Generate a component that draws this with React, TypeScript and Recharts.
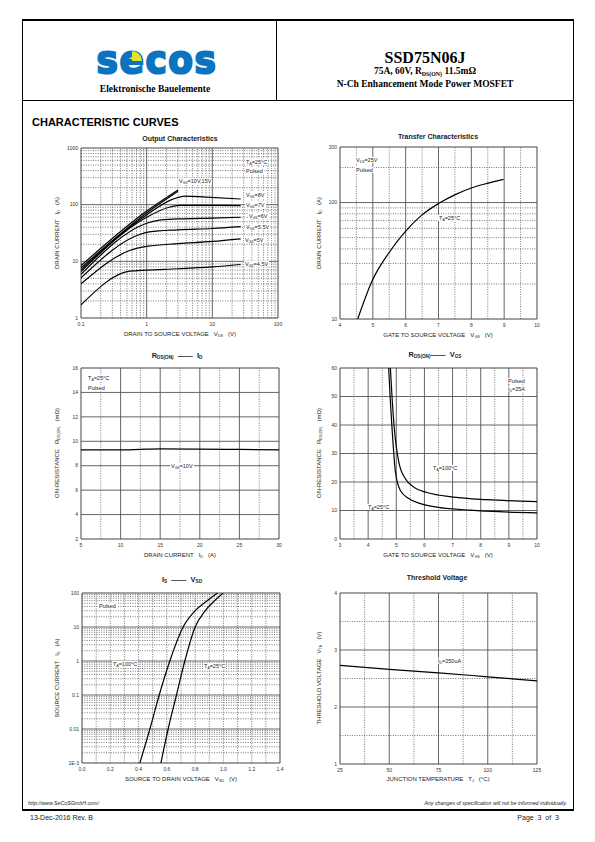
import React from 'react'
import { LineChart, Line, XAxis, YAxis, ReferenceLine } from 'recharts'

const SANS = '"Liberation Sans", Arial, Helvetica, sans-serif'
const SERIF = '"Liberation Serif", "Times New Roman", serif'

type Pt = { x: number; y: number }

// Output characteristics: VDS (V) vs ID (A), one curve per VGS
const OUT_VGS15: Pt[] = [{ x: 0.1, y: 8.4 }, { x: 1, y: 77 }, { x: 3, y: 182 }]
const OUT_VGS10: Pt[] = [{ x: 0.1, y: 7.7 }, { x: 1, y: 71 }, { x: 3, y: 172 }]
const OUT_VGS8: Pt[] = [{ x: 0.1, y: 7.1 }, { x: 1, y: 66 }, { x: 2.5, y: 125 }, { x: 3.8, y: 142 }, { x: 8, y: 136 }, { x: 27, y: 126 }]
const OUT_VGS7: Pt[] = [{ x: 0.1, y: 6.6 }, { x: 1, y: 60 }, { x: 2.2, y: 90 }, { x: 3.2, y: 97 }, { x: 10, y: 97 }, { x: 27, y: 96 }]
const OUT_VGS6: Pt[] = [{ x: 0.1, y: 5.9 }, { x: 1, y: 47 }, { x: 1.5, y: 53 }, { x: 3, y: 56 }, { x: 10, y: 58 }, { x: 27, y: 60 }]
const OUT_VGS55: Pt[] = [{ x: 0.1, y: 5.1 }, { x: 0.8, y: 30 }, { x: 1.1, y: 33 }, { x: 3, y: 36 }, { x: 10, y: 38 }, { x: 27, y: 41 }]
const OUT_VGS5: Pt[] = [{ x: 0.1, y: 4.0 }, { x: 0.55, y: 15.5 }, { x: 1.05, y: 18.5 }, { x: 3, y: 20.5 }, { x: 10, y: 22.5 }, { x: 27, y: 25 }]
const OUT_VGS45: Pt[] = [{ x: 0.1, y: 1.7 }, { x: 0.55, y: 6.7 }, { x: 1, y: 7.0 }, { x: 3, y: 7.4 }, { x: 10, y: 8.0 }, { x: 27, y: 8.8 }]

// Transfer characteristics: VGS (V) vs ID (A)
const TRANSFER: Pt[] = [
  { x: 4.54, y: 10 }, { x: 4.97, y: 21 }, { x: 5.48, y: 36.7 }, { x: 5.98, y: 56 }, { x: 6.49, y: 78 },
  { x: 7.0, y: 98 }, { x: 7.51, y: 117 }, { x: 8.02, y: 134 }, { x: 8.48, y: 146 }, { x: 8.98, y: 158 },
]

// RDS(ON) vs ID (mOhm)
const RDS_ID: Pt[] = [
  { x: 5, y: 9.3 }, { x: 10, y: 9.3 }, { x: 12.5, y: 9.34 }, { x: 15, y: 9.38 }, { x: 20, y: 9.36 }, { x: 25, y: 9.33 }, { x: 30, y: 9.3 },
]

// RDS(ON) vs VGS (mOhm)
const RDS_VGS_25: Pt[] = [
  { x: 4.73, y: 60 }, { x: 4.78, y: 50 }, { x: 4.85, y: 38.7 }, { x: 4.97, y: 23.5 }, { x: 5.14, y: 17.1 }, { x: 5.44, y: 14.2 },
  { x: 5.86, y: 12.4 }, { x: 6.45, y: 11.2 }, { x: 7.63, y: 10.1 }, { x: 8.82, y: 9.5 }, { x: 10, y: 9.2 },
]
const RDS_VGS_100: Pt[] = [
  { x: 4.79, y: 60 }, { x: 4.86, y: 48 }, { x: 4.93, y: 38.7 }, { x: 5.09, y: 27 }, { x: 5.32, y: 21.2 }, { x: 5.62, y: 18.2 },
  { x: 6.09, y: 16.3 }, { x: 7.04, y: 14.7 }, { x: 8.22, y: 13.8 }, { x: 10, y: 13.1 },
]

// IS vs VSD
const IS_100: Pt[] = [
  { x: 0.409, y: 0.001 }, { x: 0.48, y: 0.01 }, { x: 0.546, y: 0.1 }, { x: 0.621, y: 1 }, { x: 0.715, y: 10 },
  { x: 0.786, y: 26 }, { x: 0.88, y: 57 }, { x: 0.958, y: 100 },
]
const IS_25: Pt[] = [
  { x: 0.558, y: 0.001 }, { x: 0.609, y: 0.01 }, { x: 0.668, y: 0.1 }, { x: 0.727, y: 1 }, { x: 0.8, y: 10 },
  { x: 0.868, y: 29 }, { x: 0.939, y: 60 }, { x: 0.998, y: 100 },
]

// Threshold voltage vs junction temperature
const VTH: Pt[] = [{ x: 25, y: 2.73 }, { x: 50, y: 2.66 }, { x: 75, y: 2.6 }, { x: 100, y: 2.53 }, { x: 125, y: 2.46 }]

// ticks / grid
const logMinor = (from: number, to: number) => {
  const out: number[] = []
  for (let d = from; d < to; d *= 10) for (let k = 2; k <= 9; k++) out.push(+(d * k).toPrecision(3))
  return out
}

const ML = 40
const MT = 6
const MR = 8
const MB = 16
const TICK = { fontSize: 5, fill: '#333', fontFamily: SANS }

type Frame = { x: number; y: number; w: number; h: number }

interface PlotProps {
  f: Frame
  xDomain: [number, number]
  yDomain: [number, number]
  xLog?: boolean
  yLog?: boolean
  xTicks: number[]
  yTicks: number[]
  xFmt?: (v: number) => string
  yFmt?: (v: number) => string
  xMajor: number[]
  xMinor: number[]
  yMajor: number[]
  yMinor: number[]
  series: Pt[][]
}

function Plot({ f, xDomain, yDomain, xLog, yLog, xTicks, yTicks, xFmt, yFmt, xMajor, xMinor, yMajor, yMinor, series }: PlotProps) {
  return (
    <div style={{ position: 'absolute', left: f.x - ML, top: f.y - MT }}>
      <LineChart width={f.w + ML + MR} height={f.h + MT + MB} margin={{ top: MT, right: MR, bottom: 0, left: 0 }}>
        <XAxis type="number" dataKey="x" domain={xDomain} scale={xLog ? 'log' : 'linear'} ticks={xTicks} tickFormatter={xFmt}
          allowDataOverflow interval={0} height={MB} tickSize={0} tickMargin={4} axisLine={false} tick={TICK} />
        <YAxis type="number" domain={yDomain} scale={yLog ? 'log' : 'linear'} ticks={yTicks} tickFormatter={yFmt}
          allowDataOverflow interval={0} width={ML} tickSize={0} tickMargin={3} axisLine={false} tick={TICK} />
        {xMinor.map((v) => <ReferenceLine key={'xm' + v} x={v} stroke="#6a6a6a" strokeWidth={0.9} strokeDasharray="1 1.4" />)}
        {yMinor.map((v) => <ReferenceLine key={'ym' + v} y={v} stroke="#6a6a6a" strokeWidth={0.9} strokeDasharray="1 1.4" />)}
        {xMajor.map((v) => <ReferenceLine key={'xM' + v} x={v} stroke="#555" strokeWidth={0.9} />)}
        {yMajor.map((v) => <ReferenceLine key={'yM' + v} y={v} stroke="#555" strokeWidth={0.9} />)}
        <ReferenceLine x={xDomain[0]} stroke="#444" strokeWidth={1} />
        <ReferenceLine x={xDomain[1]} stroke="#444" strokeWidth={1} />
        <ReferenceLine y={yDomain[0]} stroke="#444" strokeWidth={1} />
        <ReferenceLine y={yDomain[1]} stroke="#444" strokeWidth={1} />
        {series.map((d, i) => (
          <Line key={i} data={d} dataKey="y" type="monotone" stroke="#000" strokeWidth={1.2} dot={false} isAnimationActive={false} />
        ))}
      </LineChart>
    </div>
  )
}

const S = ({ children }: { children: React.ReactNode }) => (
  <sub style={{ fontSize: '62%', verticalAlign: '-0.35em', lineHeight: 0 }}>{children}</sub>
)

interface TxtProps {
  x: number
  y: number
  children: React.ReactNode
  size?: number
  align?: 'left' | 'center' | 'right'
  bold?: boolean
  italic?: boolean
  serif?: boolean
  bg?: boolean
  rotate?: boolean
  color?: string
}

function Txt({ x, y, children, size = 6, align = 'left', bold, italic, serif, bg, rotate, color = '#222' }: TxtProps) {
  const tx = align === 'left' ? '0' : align === 'center' ? '-50%' : '-100%'
  return (
    <div style={{
      position: 'absolute', left: x, top: y,
      transform: rotate ? 'translate(-50%,-50%) rotate(-90deg)' : `translate(${tx},-50%)`,
      fontSize: size, fontWeight: bold ? 'bold' : 'normal', fontStyle: italic ? 'italic' : 'normal',
      fontFamily: serif ? SERIF : SANS, color, whiteSpace: 'nowrap', lineHeight: 1.15,
      background: bg ? '#fff' : 'transparent', padding: bg ? '0 1px' : 0,
    }}>{children}</div>
  )
}

const hl = (left: number, top: number, width: number, height: number) => (
  <div style={{ position: 'absolute', left, top, width, height, background: '#000' }} />
)

export default function App() {
  return (
    <div style={{ position: 'absolute', left: 0, top: 0, width: 595, height: 842, background: '#fff', fontFamily: SANS, overflow: 'hidden' }}>
      {/* page frame */}
      {hl(22, 19, 552, 2)}
      {hl(22, 100, 552, 1)}
      {hl(276, 20, 1, 80)}
      {hl(22, 20, 1, 790)}
      {hl(573, 20, 1, 790)}
      {hl(22, 809, 552, 2)}

      {/* logo */}
      <div style={{
        position: 'absolute', left: 157, top: 59, transform: 'translate(-50%,-50%) scaleY(1.1)', fontFamily: '"DejaVu Sans", sans-serif',
        fontWeight: 'bold', fontSize: 36, lineHeight: 0.75, letterSpacing: 1.5, color: '#0b74c0', whiteSpace: 'nowrap',
        WebkitTextStroke: '2px #0b74c0',
      }}>secos</div>
      <div style={{ position: 'absolute', left: 132, top: 51, width: 10, height: 10, background: '#e4e02a', borderTopRightRadius: '100%' }} />
      <Txt x={155} y={88.5} size={9.5} align="center" bold serif color="#000">Elektronische Bauelemente</Txt>

      <Txt x={425} y={58} size={16} align="center" bold serif color="#000">SSD75N06J</Txt>
      <Txt x={425} y={71} size={9.5} align="center" bold serif color="#000">75A, 60V, R<S>DS(ON)</S> 11.5mΩ</Txt>
      <Txt x={425} y={84} size={9.5} align="center" bold serif color="#000">N-Ch Enhancement Mode Power MOSFET</Txt>

      <Txt x={32} y={122} size={11} bold color="#000">CHARACTERISTIC CURVES</Txt>

      {/* Output characteristics */}
      <Plot f={{ x: 81, y: 148, w: 197, h: 170 }} xDomain={[0.1, 100]} yDomain={[1, 1000]} xLog yLog
        xTicks={[0.1, 1, 10, 100]} yTicks={[1, 10, 100, 1000]}
        xMajor={[1, 10]} xMinor={logMinor(0.1, 100)} yMajor={[10, 100]} yMinor={logMinor(1, 1000)}
        series={[OUT_VGS15, OUT_VGS10, OUT_VGS8, OUT_VGS7, OUT_VGS6, OUT_VGS55, OUT_VGS5, OUT_VGS45]} />
      <Txt x={180} y={139} size={7} align="center" bold>Output Characteristics</Txt>
      <Txt x={245} y={162} size={5.5} bg>T<S>A</S>=25°C</Txt>
      <Txt x={245} y={171} size={5.5} bg>Pulsed</Txt>
      <Txt x={178} y={181} size={5.5} bg>V<S>GS</S>=10V,15V</Txt>
      <Txt x={245} y={195} size={5.5} bg>V<S>GS</S>=8V</Txt>
      <Txt x={245} y={205} size={5.5} bg>V<S>GS</S>=7V</Txt>
      <Txt x={248} y={216} size={5.5} bg>V<S>GS</S>=6V</Txt>
      <Txt x={245} y={227} size={5.5} bg>V<S>GS</S>=5.5V</Txt>
      <Txt x={244} y={240} size={5.5} bg>V<S>GS</S>=5V</Txt>
      <Txt x={244} y={264} size={5.5} bg>V<S>GS</S>=4.5V</Txt>
      <Txt x={180} y={334} size={6} align="center">DRAIN TO SOURCE VOLTAGE&nbsp;&nbsp;&nbsp;V<S>DS</S>&nbsp;&nbsp;&nbsp;(V)</Txt>
      <Txt x={57} y={233} size={6} rotate>DRAIN CURRENT&nbsp;&nbsp;&nbsp;I<S>D</S>&nbsp;&nbsp;&nbsp;(A)</Txt>

      {/* Transfer characteristics */}
      <Plot f={{ x: 340, y: 147, w: 197, h: 172 }} xDomain={[4, 10]} yDomain={[10, 300]} yLog
        xTicks={[4, 5, 6, 7, 8, 9, 10]} yTicks={[10, 100, 300]}
        xMajor={[5, 6, 7, 8, 9]} xMinor={[4.5, 5.5, 6.5, 7.5, 8.5, 9.5]} yMajor={[100]} yMinor={[20, 30, 40, 50, 60, 70, 80, 90, 200]}
        series={[TRANSFER]} />
      <Txt x={438} y={137} size={7} align="center" bold>Transfer Characteristics</Txt>
      <Txt x={355} y={160} size={5.5} bg>V<S>DS</S>=25V</Txt>
      <Txt x={355} y={170} size={5.5} bg>Pulsed</Txt>
      <Txt x={438} y={218} size={5.5} bg>T<S>A</S>=25°C</Txt>
      <Txt x={438} y={335} size={6} align="center">GATE TO SOURCE VOLTAGE&nbsp;&nbsp;&nbsp;V<S>GS</S>&nbsp;&nbsp;&nbsp;(V)</Txt>
      <Txt x={319} y={233} size={6} rotate>DRAIN CURRENT&nbsp;&nbsp;&nbsp;I<S>D</S>&nbsp;&nbsp;&nbsp;(A)</Txt>

      {/* RDS(ON) vs ID */}
      <Plot f={{ x: 81, y: 368, w: 198, h: 171 }} xDomain={[5, 30]} yDomain={[2, 16]}
        xTicks={[5, 10, 15, 20, 25, 30]} yTicks={[2, 4, 6, 8, 10, 12, 14, 16]}
        xMajor={[10, 15, 20, 25]} xMinor={[7.5, 12.5, 17.5, 22.5, 27.5]} yMajor={[4, 6, 8, 10, 12, 14]} yMinor={[]}
        series={[RDS_ID]} />
      <Txt x={177} y={356} size={7.5} align="center" bold>R<S>DS(ON)</S>&nbsp;&nbsp;——&nbsp;&nbsp;I<S>D</S></Txt>
      <Txt x={87} y={378} size={5.5} bg>T<S>A</S>=25°C</Txt>
      <Txt x={87} y={388} size={5.5} bg>Pulsed</Txt>
      <Txt x={170} y={466} size={5.5} bg>V<S>GS</S>=10V</Txt>
      <Txt x={180} y={555} size={6} align="center">DRAIN CURRENT&nbsp;&nbsp;&nbsp;I<S>D</S>&nbsp;&nbsp;&nbsp;(A)</Txt>
      <Txt x={57} y={453} size={6} rotate>ON-RESISTANCE&nbsp;&nbsp;&nbsp;R<S>DS(ON)</S>&nbsp;&nbsp;&nbsp;(mΩ)</Txt>

      {/* RDS(ON) vs VGS */}
      <Plot f={{ x: 340, y: 368, w: 197, h: 171 }} xDomain={[3, 10]} yDomain={[0, 60]}
        xTicks={[3, 4, 5, 6, 7, 8, 9, 10]} yTicks={[0, 10, 20, 30, 40, 50, 60]}
        xMajor={[4, 5, 6, 7, 8, 9]} xMinor={[3.5, 4.5, 5.5, 6.5, 7.5, 8.5, 9.5]} yMajor={[10, 20, 30, 40, 50]} yMinor={[]}
        series={[RDS_VGS_25, RDS_VGS_100]} />
      <Txt x={435} y={355} size={7.5} align="center" bold>R<S>DS(ON)</S>——&nbsp;&nbsp;V<S>GS</S></Txt>
      <Txt x={507} y={381} size={5.5} bg>Pulsed</Txt>
      <Txt x={507} y={389} size={5.5} bg>I<S>D</S>=25A</Txt>
      <Txt x={432} y={468} size={5.5} bg>T<S>A</S>=100°C</Txt>
      <Txt x={367} y={507} size={5.5} bg>T<S>A</S>=25°C</Txt>
      <Txt x={438} y={555} size={6} align="center">GATE TO SOURCE VOLTAGE&nbsp;&nbsp;&nbsp;V<S>GS</S>&nbsp;&nbsp;&nbsp;(V)</Txt>
      <Txt x={319} y={453} size={6} rotate>ON-RESISTANCE&nbsp;&nbsp;&nbsp;R<S>DS(ON)</S>&nbsp;&nbsp;&nbsp;(mΩ)</Txt>

      {/* IS vs VSD */}
      <Plot f={{ x: 82, y: 593, w: 198, h: 170 }} xDomain={[0, 1.4]} yDomain={[0.001, 100]} yLog
        xTicks={[0, 0.2, 0.4, 0.6, 0.8, 1.0, 1.2, 1.4]} yTicks={[0.001, 0.01, 0.1, 1, 10, 100]}
        xFmt={(v) => v.toFixed(1)} yFmt={(v) => (v === 0.001 ? '1E-3' : String(v))}
        xMajor={[]} xMinor={[0.1, 0.2, 0.3, 0.4, 0.5, 0.6, 0.7, 0.8, 0.9, 1.0, 1.1, 1.2, 1.3]}
        yMajor={[0.01, 0.1, 1, 10]} yMinor={logMinor(0.001, 100)}
        series={[IS_100, IS_25]} />
      <Txt x={182} y={580} size={7.5} align="center" bold>I<S>S</S>&nbsp;&nbsp;——&nbsp;&nbsp;V<S>SD</S></Txt>
      <Txt x={98} y={606} size={5.5} bg>Pulsed</Txt>
      <Txt x={112} y={664} size={5.5} bg>T<S>A</S>=100°C</Txt>
      <Txt x={203} y={666} size={5.5} bg>T<S>A</S>=25°C</Txt>
      <Txt x={181} y={779} size={6} align="center">SOURCE TO DRAIN VOLTAGE&nbsp;&nbsp;&nbsp;V<S>SD</S>&nbsp;&nbsp;&nbsp;(V)</Txt>
      <Txt x={57} y={678} size={6} rotate>SOURCE CURRENT&nbsp;&nbsp;&nbsp;I<S>S</S>&nbsp;&nbsp;&nbsp;(A)</Txt>

      {/* Threshold voltage */}
      <Plot f={{ x: 340, y: 593, w: 197, h: 171 }} xDomain={[25, 125]} yDomain={[1, 4]}
        xTicks={[25, 50, 75, 100, 125]} yTicks={[1, 2, 3, 4]}
        xMajor={[50, 75, 100]} xMinor={[37.5, 62.5, 87.5, 112.5]} yMajor={[2, 3]} yMinor={[1.5, 2.5, 3.5]}
        series={[VTH]} />
      <Txt x={437} y={578} size={7} align="center" bold>Threshold Voltage</Txt>
      <Txt x={437} y={661} size={5.5} bg>I<S>D</S>=250uA</Txt>
      <Txt x={438} y={779} size={6} align="center">JUNCTION TEMPERATURE&nbsp;&nbsp;&nbsp;T<S>J</S>&nbsp;&nbsp;&nbsp;(°C)</Txt>
      <Txt x={319} y={678} size={6} rotate>THRESHOLD VOLTAGE&nbsp;&nbsp;&nbsp;V<S>TH</S>&nbsp;&nbsp;&nbsp;(V)</Txt>

      {/* footer */}
      <Txt x={28} y={803} size={5.3} italic>http://www.SeCoSGmbH.com/</Txt>
      <Txt x={567} y={803} size={5.3} italic align="right">Any changes of specification will not be informed individually.</Txt>
      <Txt x={30} y={818} size={7}>13-Dec-2016 Rev. B</Txt>
      <Txt x={559} y={818} size={7} align="right">Page&nbsp;&nbsp;3&nbsp;&nbsp;of&nbsp;&nbsp;3</Txt>
    </div>
  )
}
